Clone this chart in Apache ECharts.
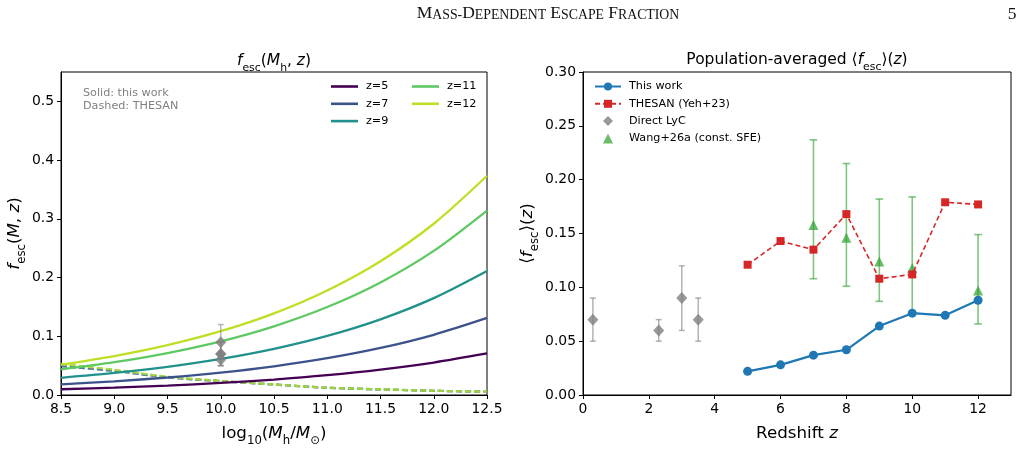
<!DOCTYPE html>
<html>
<head>
<meta charset="utf-8">
<script src="https://cdn.jsdelivr.net/npm/echarts@6/dist/echarts.min.js"></script>
<style>
  html, body { margin: 0; padding: 0; background: #fff; }
  #chart { width: 1025px; height: 469px; }
</style>
</head>
<body>
<div id="chart"></div>
<script>
// left panel: f_esc(M_h, z) at 0.5 dex steps
const logMass = [8.5, 9.0, 9.5, 10.0, 10.5, 11.0, 11.5, 12.0, 12.5];
const fescZ5 = [0.0098, 0.0125, 0.0161, 0.0206, 0.0263, 0.0337, 0.0432, 0.0553, 0.0707];
const fescZ7 = [0.0182, 0.0233, 0.0298, 0.0382, 0.0489, 0.0626, 0.0801, 0.1025, 0.1312];
const fescZ9 = [0.0293, 0.0375, 0.0480, 0.0615, 0.0787, 0.1007, 0.1289, 0.1650, 0.2112];
const fescZ11 = [0.0436, 0.0558, 0.0714, 0.0914, 0.1170, 0.1498, 0.1917, 0.2454, 0.3141];
const fescZ12 = [0.0518, 0.0663, 0.0849, 0.1086, 0.1390, 0.1780, 0.2278, 0.2916, 0.3733];
// THESAN dashed curves (they nearly overlap)
const thesanLowZ = [0.049, 0.041, 0.030, 0.0235, 0.0178, 0.0123, 0.0095, 0.0072, 0.0055];
const thesanHighZ = [0.053, 0.043, 0.031, 0.0240, 0.0180, 0.0125, 0.0097, 0.0073, 0.0056];
const zLabels = ["z=5", "z=7", "z=9", "z=11", "z=12"];

// right panel
const zBins = [5, 6, 7, 8, 9, 10, 11, 12];
const thisWork = [0.022, 0.028, 0.037, 0.042, 0.064, 0.076, 0.074, 0.088];
const thesanAvg = [0.121, 0.143, 0.135, 0.168, 0.108, 0.112, 0.179, 0.177];
const lycZ = [0.3, 2.3, 3.0, 3.5];
const lycF = [0.07, 0.06, 0.09, 0.07];
const lycLo = [0.05, 0.05, 0.06, 0.05];
const lycHi = [0.09, 0.07, 0.12, 0.09];
const lycMass = 10.0; // where the LyC points sit on the left panel
const wangZ = [7, 8, 9, 10, 12];
const wangF = [0.158, 0.146, 0.124, 0.118, 0.097];
const wangLo = [0.108, 0.101, 0.087, 0.077, 0.066];
const wangHi = [0.237, 0.215, 0.182, 0.184, 0.149];

// tick labels
const leftYTicks = [0, 0.1, 0.2, 0.3, 0.4, 0.5];
const rightXTicks = [0, 2, 4, 6, 8, 10, 12];

const zColors = ["#440154", "#3b528b", "#21918c", "#5ec962", "#bddf26"];
const font = "DejaVu Sans";

function richStyle(fs) {
  return {
    n: { fontFamily: font, fontSize: fs, lineHeight: fs * 1.6, verticalAlign: "middle", color: "#000" },
    i: { fontFamily: font, fontSize: fs, fontStyle: "italic", lineHeight: fs * 1.6, verticalAlign: "middle", color: "#000" },
    s: { fontFamily: font, fontSize: fs * 0.7, lineHeight: fs * 0.75, verticalAlign: "bottom", color: "#000" },
  };
}

function errorBars(color, capHalf, width, opacity) {
  return function (params, api) {
    const x = api.value(0);
    const lo = api.coord([x, api.value(1)]);
    const hi = api.coord([x, api.value(2)]);
    const style = { stroke: color, lineWidth: width, opacity: opacity };
    return {
      type: "group",
      children: [
        { type: "line", shape: { x1: lo[0], y1: lo[1], x2: hi[0], y2: hi[1] }, style: style },
        { type: "line", shape: { x1: lo[0] - capHalf, y1: lo[1], x2: lo[0] + capHalf, y2: lo[1] }, style: style },
        { type: "line", shape: { x1: hi[0] - capHalf, y1: hi[1], x2: hi[0] + capHalf, y2: hi[1] }, style: style },
      ],
    };
  };
}

const fescCurves = [fescZ5, fescZ7, fescZ9, fescZ11, fescZ12];
const thesanCurves = [thesanLowZ, thesanLowZ, thesanLowZ, thesanHighZ, thesanHighZ];

const axisCommon = {
  axisLine: { onZero: false, lineStyle: { color: "#000", width: 1 } },
  axisTick: { length: 4, lineStyle: { color: "#000" } },
  axisLabel: { color: "#000", fontFamily: font, fontSize: 13.9, margin: 7 },
  splitLine: { show: false },
};

let series = [];

// dashed THESAN curves, left panel
zLabels.forEach((name, k) => {
  series.push({
    name: "THESAN " + name,
    type: "line",
    xAxisIndex: 0,
    yAxisIndex: 0,
    data: logMass.map((m, j) => [m, thesanCurves[k][j]]),
    smooth: 0.3,
    symbol: "none",
    lineStyle: { color: zColors[k], width: 2.2, type: [6, 3], opacity: k < 3 ? 0.45 : 0.7 },
    itemStyle: { color: zColors[k] },
    z: 2,
  });
});

// solid curves
zLabels.forEach((name, k) => {
  series.push({
    name: name,
    type: "line",
    xAxisIndex: 0,
    yAxisIndex: 0,
    data: logMass.map((m, j) => [m, fescCurves[k][j]]),
    smooth: 0.3,
    symbol: "none",
    lineStyle: { color: zColors[k], width: 2.3 },
    itemStyle: { color: zColors[k] },
    z: 3,
  });
});

// LyC points on the left panel
series.push({
  type: "custom",
  xAxisIndex: 0,
  yAxisIndex: 0,
  renderItem: errorBars("#8a8a8a", 3, 1.5, 0.6),
  encode: { x: 0, y: [1, 2] },
  data: lycF.map((f, j) => [lycMass, lycLo[j], lycHi[j]]),
  z: 4,
  silent: true,
});
series.push({
  name: "LyC left",
  type: "scatter",
  xAxisIndex: 0,
  yAxisIndex: 0,
  symbol: "diamond",
  symbolSize: [11, 12],
  data: lycF.map((f) => [lycMass, f]),
  itemStyle: { color: "#808080", opacity: 0.8 },
  z: 5,
});

// right panel
series.push({
  type: "custom",
  xAxisIndex: 1,
  yAxisIndex: 1,
  renderItem: errorBars("#2ca02c", 3.8, 1.6, 0.6),
  encode: { x: 0, y: [1, 2] },
  data: wangZ.map((z, j) => [z, wangLo[j], wangHi[j]]),
  z: 2,
  silent: true,
});
series.push({
  name: "Wang+26a (const. SFE)",
  type: "scatter",
  xAxisIndex: 1,
  yAxisIndex: 1,
  symbol: "triangle",
  symbolSize: 10,
  data: wangZ.map((z, j) => [z, wangF[j]]),
  itemStyle: { color: "#2ca02c", opacity: 0.7 },
  z: 3,
});
series.push({
  type: "custom",
  xAxisIndex: 1,
  yAxisIndex: 1,
  renderItem: errorBars("#808080", 3, 1.5, 0.6),
  encode: { x: 0, y: [1, 2] },
  data: lycZ.map((z, j) => [z, lycLo[j], lycHi[j]]),
  z: 2,
  silent: true,
});
series.push({
  name: "Direct LyC",
  type: "scatter",
  xAxisIndex: 1,
  yAxisIndex: 1,
  symbol: "diamond",
  symbolSize: [11, 12],
  data: lycZ.map((z, j) => [z, lycF[j]]),
  itemStyle: { color: "#808080", opacity: 0.8 },
  z: 3,
});
series.push({
  name: "THESAN (Yeh+23)",
  type: "line",
  xAxisIndex: 1,
  yAxisIndex: 1,
  data: zBins.map((z, j) => [z, thesanAvg[j]]),
  symbol: "rect",
  symbolSize: 8,
  lineStyle: { color: "#d62728", width: 1.6, type: [5, 3] },
  itemStyle: { color: "#d62728" },
  z: 4,
});
series.push({
  name: "This work",
  type: "line",
  xAxisIndex: 1,
  yAxisIndex: 1,
  data: zBins.map((z, j) => [z, thisWork[j]]),
  symbol: "circle",
  symbolSize: 9,
  lineStyle: { color: "#1f77b4", width: 2.2 },
  itemStyle: { color: "#1f77b4" },
  z: 5,
});

const legendText = { fontFamily: font, fontSize: 11.2, color: "#000", padding: [0, 0, 0, 3] };
const lineIcon = (name) => ({ name: name, icon: "rect" });

const option = {
  animation: false,
  backgroundColor: "#fff",
  grid: [
    { left: 61, right: 538, top: 72, bottom: 74, show: true, borderColor: "#000", borderWidth: 1, backgroundColor: "transparent" },
    { left: 583, right: 14, top: 72, bottom: 74, show: true, borderColor: "#000", borderWidth: 1, backgroundColor: "transparent" },
  ],
  legend: [
    {
      data: zLabels.slice(0, 3).map(lineIcon), orient: "vertical", left: 331, top: 81, padding: 0,
      itemWidth: 27, itemHeight: 2.6, itemGap: 6.3, textStyle: legendText, selectedMode: false,
    },
    {
      data: zLabels.slice(3).map(lineIcon), orient: "vertical", left: 412, top: 81, padding: 0,
      itemWidth: 27, itemHeight: 2.6, itemGap: 6.3, textStyle: legendText, selectedMode: false,
    },
    {
      data: [
        { name: "This work" },
        { name: "THESAN (Yeh+23)" },
        { name: "Direct LyC", icon: "path://M5,0L10,5L5,10L0,5Z" },
        { name: "Wang+26a (const. SFE)", icon: "path://M5,0L10,10L0,10Z" },
      ],
      orient: "vertical", left: 594, top: 81, padding: 0,
      itemWidth: 26, itemHeight: 10, itemGap: 6.3, textStyle: legendText, selectedMode: false,
    },
  ],
  xAxis: [
    Object.assign({}, axisCommon, {
      gridIndex: 0, type: "value", min: 8.5, max: 12.5, interval: 0.5,
      axisLabel: Object.assign({}, axisCommon.axisLabel, { formatter: (v) => v.toFixed(1) }),
      name: "{n|log}{s|10}{n|(}{i|M}{s|h}{n|/}{i|M}{s|⊙}{n|)}",
      nameLocation: "middle", nameGap: 25,
      nameTextStyle: { rich: richStyle(16.7) },
    }),
    Object.assign({}, axisCommon, {
      gridIndex: 1, type: "value", min: 0, max: 13,
      axisTick: Object.assign({}, axisCommon.axisTick, { customValues: rightXTicks }),
      axisLabel: Object.assign({}, axisCommon.axisLabel, { customValues: rightXTicks }),
      name: "{n|Redshift }{i|z}",
      nameLocation: "middle", nameGap: 25,
      nameTextStyle: { rich: richStyle(16.7) },
    }),
  ],
  yAxis: [
    Object.assign({}, axisCommon, {
      gridIndex: 0, type: "value", min: 0, max: 0.55,
      axisTick: Object.assign({}, axisCommon.axisTick, { customValues: leftYTicks }),
      axisLabel: Object.assign({}, axisCommon.axisLabel, { customValues: leftYTicks, formatter: (v) => v.toFixed(1) }),
      name: "{i|f}{s|esc}{n|(}{i|M}{n|, }{i|z}{n|)}",
      nameLocation: "middle", nameGap: 28, nameRotate: 90,
      nameTextStyle: { rich: richStyle(16.7) },
    }),
    Object.assign({}, axisCommon, {
      gridIndex: 1, type: "value", min: 0, max: 0.3, interval: 0.05,
      axisLabel: Object.assign({}, axisCommon.axisLabel, { formatter: (v) => v.toFixed(2) }),
      name: "{n|⟨}{i|f}{s|esc}{n|⟩(}{i|z}{n|)}",
      nameLocation: "middle", nameGap: 38, nameRotate: 90,
      nameTextStyle: { rich: richStyle(16.7) },
    }),
  ],
  graphic: [
    {
      type: "text", x: 548, y: 14,
      style: {
        text: "{b|M}{c|ASS-}{b|D}{c|EPENDENT} {b|E}{c|SCAPE} {b|F}{c|RACTION}",
        align: "center", verticalAlign: "middle",
        font: "17px 'Liberation Serif'",
        rich: {
          b: { fontFamily: "Liberation Serif", fontSize: 17.5, lineHeight: 17.5, verticalAlign: "bottom", fill: "#111" },
          c: { fontFamily: "Liberation Serif", fontSize: 13.8, lineHeight: 13.8, verticalAlign: "bottom", fill: "#111" },
        },
      },
    },
    {
      type: "text", x: 1012, y: 14,
      style: { text: "5", align: "center", verticalAlign: "middle", font: "17.5px 'Liberation Serif'", fill: "#111" },
    },
    {
      type: "text", x: 274, y: 61,
      style: {
        text: "{i|f}{s|esc}{n|(}{i|M}{s|h}{n|, }{i|z}{n|)}",
        align: "center", verticalAlign: "middle",
        rich: richStyle(15.5),
      },
    },
    {
      type: "text", x: 797, y: 60,
      style: {
        text: "{n|Population-averaged ⟨}{i|f}{s|esc}{n|⟩(}{i|z}{n|)}",
        align: "center", verticalAlign: "middle",
        rich: richStyle(15.5),
      },
    },
    {
      type: "text", x: 83, y: 86,
      style: {
        text: "Solid: this work\nDashed: THESAN",
        fill: "#808080", font: "11.2px 'DejaVu Sans'", lineHeight: 13.5,
      },
    },
  ],
  series: series,
};

const chart = echarts.init(document.getElementById("chart"));
chart.setOption(option);
</script>
</body>
</html>
